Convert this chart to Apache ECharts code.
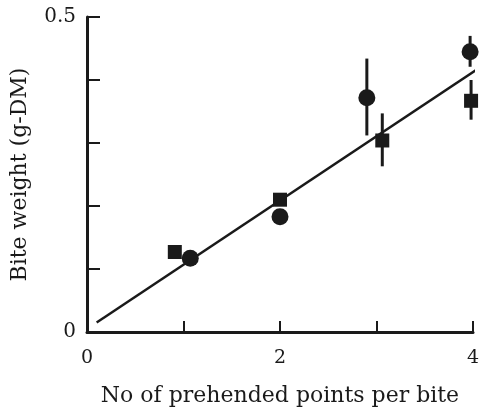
<!DOCTYPE html>
<html>
<head>
<meta charset="utf-8">
<script src="https://cdn.jsdelivr.net/npm/echarts@6/dist/echarts.min.js"></script>
<style>html,body{margin:0;padding:0;background:#fff;}#c{width:488px;height:412px;}</style>
</head>
<body>
<div id="c"></div>
<script>
const circleX = [1.07, 2.0, 2.90, 3.97];
const circleY = [0.117, 0.183, 0.372, 0.445];
const circleLow = [null, null, 0.312, 0.421];
const circleHigh = [null, null, 0.434, 0.470];
const squareX = [0.91, 2.0, 3.06, 3.98];
const squareY = [0.127, 0.210, 0.304, 0.367];
const squareLow = [null, null, 0.263, 0.337];
const squareHigh = [null, null, 0.347, 0.400];
const fitX = [0.10, 4.16];
const fitY = [0.015, 0.429];
const xTickLabels = ['0', '2', '4'];
const yTickLabels = ['0', '0.5'];

const ink = '#1a1a1a';
const font = 'DejaVu Serif';

function errData(xs, lo, hi) {
  const out = [];
  for (let i = 0; i < xs.length; i++) if (lo[i] != null) out.push([xs[i], lo[i], hi[i]]);
  return out;
}
const errAll = errData(circleX, circleLow, circleHigh).concat(errData(squareX, squareLow, squareHigh));

const chart = echarts.init(document.getElementById('c'));
chart.setOption({
  animation: false,
  grid: {left: 87, right: 15, top: 17, bottom: 79},
  xAxis: {
    type: 'value', min: 0, max: 4, interval: 1,
    axisLine: {show: true, lineStyle: {color: ink, width: 3}},
    axisTick: {show: true, inside: true, length: 11, lineStyle: {color: ink, width: 2}},
    splitLine: {show: false},
    axisLabel: {
      color: ink, fontFamily: font, fontSize: 19, margin: 17,
      formatter: v => xTickLabels.indexOf(String(v)) >= 0 ? String(v) : ''
    },
    name: 'No of prehended points per bite', nameLocation: 'middle', nameGap: 53,
    nameTextStyle: {color: ink, fontFamily: font, fontSize: 22}
  },
  yAxis: {
    type: 'value', min: 0, max: 0.5, interval: 0.1,
    axisLine: {show: true, lineStyle: {color: ink, width: 3}},
    axisTick: {show: true, inside: true, length: 13, lineStyle: {color: ink, width: 2}},
    splitLine: {show: false},
    axisLabel: {
      color: ink, fontFamily: font, fontSize: 20, margin: 11,
      formatter: v => { const s = String(+v.toFixed(2)); return yTickLabels.indexOf(s) >= 0 ? s : ''; }
    },
    name: 'Bite weight (g-DM)', nameLocation: 'middle', nameGap: 56,
    nameTextStyle: {color: ink, fontFamily: font, fontSize: 22}
  },
  series: [
    {
      type: 'line', data: fitX.map((x, i) => [x, fitY[i]]), clip: false,
      symbol: 'none', lineStyle: {color: ink, width: 2.5}, z: 2
    },
    {
      type: 'custom', data: errAll, clip: false, z: 3,
      renderItem: (params, api) => {
        const a = api.coord([api.value(0), api.value(1)]);
        const b = api.coord([api.value(0), api.value(2)]);
        return {type: 'line', shape: {x1: a[0], y1: a[1], x2: b[0], y2: b[1]},
                style: {stroke: ink, lineWidth: 3}};
      }
    },
    {
      type: 'scatter', data: circleX.map((x, i) => [x, circleY[i]]),
      symbol: 'circle', symbolSize: 17, itemStyle: {color: ink, opacity: 1}, z: 4
    },
    {
      type: 'scatter', data: squareX.map((x, i) => [x, squareY[i]]),
      symbol: 'rect', symbolSize: 14, itemStyle: {color: ink, opacity: 1}, z: 4
    }
  ]
});
</script>
</body>
</html>
